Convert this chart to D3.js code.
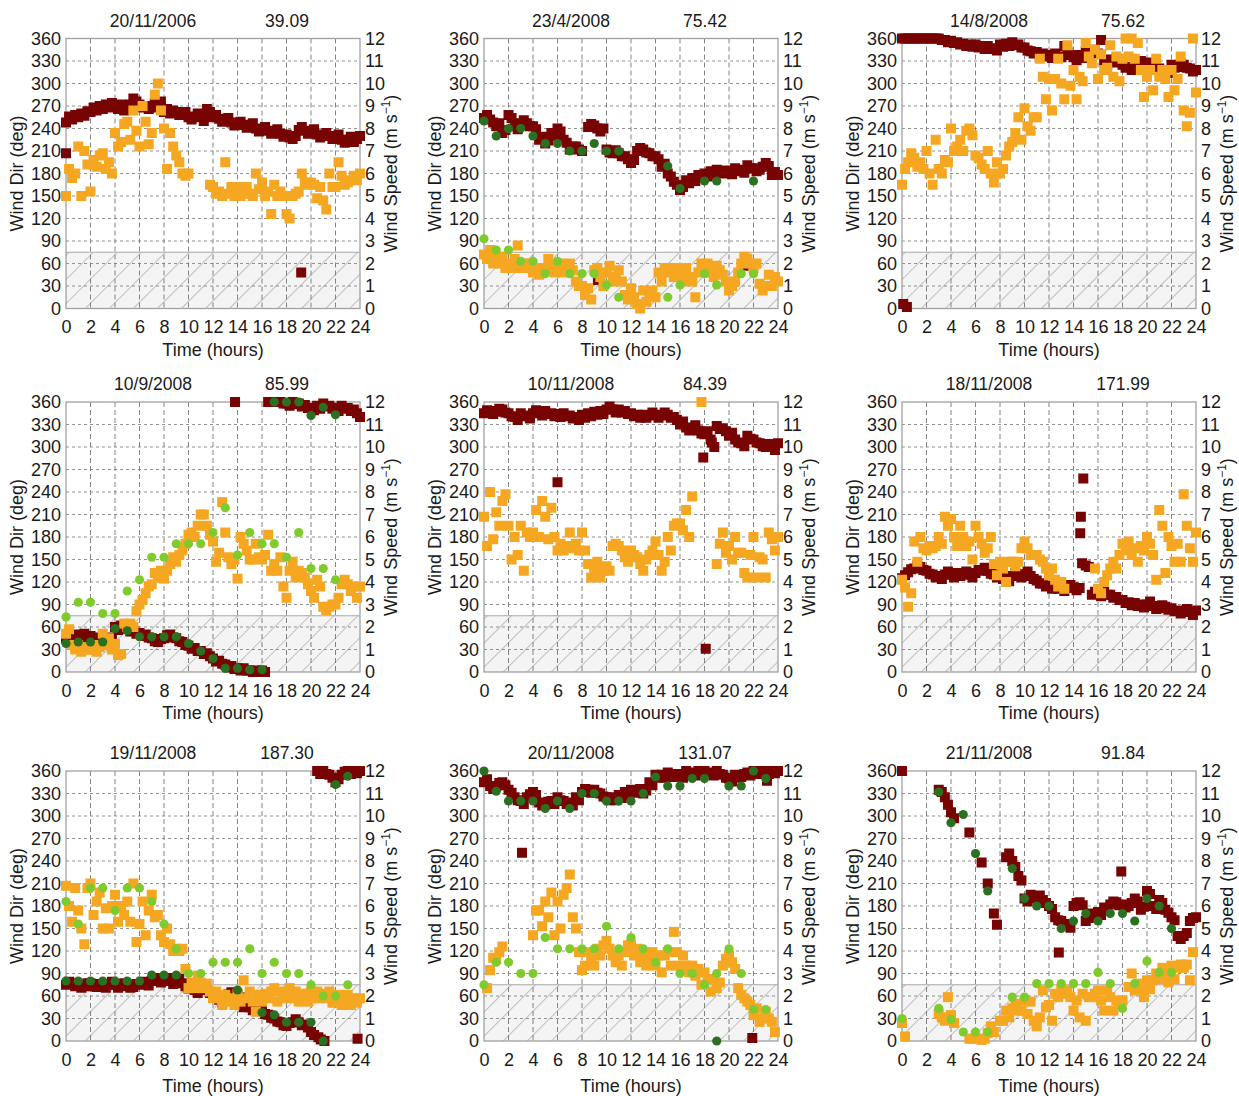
<!DOCTYPE html>
<html>
<head>
<meta charset="utf-8">
<script src="https://cdn.jsdelivr.net/npm/d3@7"></script>
<style>
body { margin: 0; background: #fff; }
text { font-family: "Liberation Sans", Arial, sans-serif; fill: #1a1a1a; }
</style>
</head>
<body>
<svg id="chart" width="1239" height="1096"></svg>
<script>
// panel headers
var dates = ["20/11/2006", "23/4/2008", "14/8/2008", "10/9/2008", "10/11/2008",
             "18/11/2008", "19/11/2008", "20/11/2008", "21/11/2008"];
var scores = ["39.09", "75.42", "75.62", "85.99", "84.39", "171.99", "187.30", "131.07", "91.84"];

var timeTicks = [0, 2, 4, 6, 8, 10, 12, 14, 16, 18, 20, 22, 24];
var dirTicks = [0, 30, 60, 90, 120, 150, 180, 210, 240, 270, 300, 330, 360];
var speedTicks = [0, 1, 2, 3, 4, 5, 6, 7, 8, 9, 10, 11, 12];
var calmLimit = 2.5; // m/s, hatched zone

// measured wind dir (deg) and speed (m/s), one value every quarter hour from 0 h
var step = 0.25;

var dir1 = [248,256,252,258, 255,260,257,263, 262,268,264,270, 266,272,268,274, 270,266,272,264,
  266,272,280,276, 272,268,270,266, 268,274,270,276, 262,266,260,264, 262,258,258,262,
  255,252,256,260, 255,250,266,262, 255,258,253,249, 250,254,248,244, 245,249,245,241,
  243,247,240,236, 238,242,237,233, 235,239,233,229, 232,228,226,230, 238,242,237,233,
  235,239,232,228, 230,234,230,226, 228,232,225,221, 225,229,222,226, 230];
var spd1 = [5.0,6.2,5.8,6.0, 7.2,5.0,7.0,6.4, 5.2,6.6,6.3,6.8, 6.9,6.2,6.5,6.0, 7.8,7.2,7.4,8.2,
  8.3,7.5,8.8,7.9, 7.2,9.0,8.3,7.3, 7.8,9.5,10.0,8.8, 8.0,6.2,7.8,7.2, 6.8,6.5,6.0,5.9,
  6.0,null,null,null, null,null,null,5.5, 5.4,5.1,5.2,5.0, 6.5,5.1,5.4,5.0, 5.4,5.0,5.2,5.4,
  5.1,5.0,6.0,5.3, 5.6,5.0,5.2,4.2, 5.5,5.0,5.2,5.0, 4.2,4.0,5.0,5.1, 5.2,6.0,5.6,5.5,
  5.6,5.5,4.9,5.4, 4.8,4.4,6.0,5.4, 5.4,6.5,5.9,5.5, 5.6,5.7,5.9,5.7, 6.0];
var odd1 = [[0, 207], [19.2, 48]];
var mdir1 = [];
var mspd1 = [];

var dir2 = [254,258,252,248, 243,247,234,238, 258,254,243,239, 247,251,247,243, 243,239,225,229,
  220,224,234,230, 240,236,225,221, 212,216,216,212, 210,null,242,246, 244,240,236,240,
  212,208,207,211, 207,203,203,199, 194,198,210,214, 212,208,207,203, 203,199,189,193,
  180,176,169,165, 158,162,171,167, 174,170,178,174, 180,176,183,179, 185,181,180,184,
  183,179,187,183, 185,181,191,187, 187,183,185,189, 194,190,178,182, 178];
var spd2 = [2.4,2.2,2.6,2.0, 2.2,2.0,2.3,1.8, 2.0,1.8,2.2,2.8, 1.8,2.0,1.8,2.0, 1.6,1.8,1.5,1.8,
  1.8,2.2,1.8,1.6, 1.8,2.0,1.6,1.8, 2.0,1.7,1.2,1.0, 1.0,0.6,0.9,0.4, 1.7,1.8,1.4,1.0,
  1.6,1.9,1.2,1.4, 1.7,1.2,0.6,0.4, 0.9,0.5,0.2,0.0, 0.8,0.3,0.5,0.8, 0.5,1.6,1.2,1.8,
  1.6,1.8,1.4,1.8, 1.5,1.2,1.8,1.4, 1.2,0.5,1.6,2.0, 1.8,2.0,1.6,1.4, 1.9,1.7,1.5,1.2,
  0.8,1.0,1.2,1.6, 2.0,2.3,2.2,2.0, 1.8,2.0,1.1,0.8, 1.0,1.5,1.0,1.4, 1.2];
var odd2 = [[9.3, 38], [21.2, 57]];
var mdir2 = [[0,250],[1,230],[2,240],[3,240],[4,230],[5,220],[6,220],[7,210],[8,210],[9,220],
  [10,210],[11,210],[15,190],[16,160],[18,170],[19,170],[22,170]];
var mspd2 = [[0,3.1],[1,2.6],[2,2.6],[3,2.1],[4,2.1],[5,1.55],[6,2.1],[7,1.55],[8,1.55],[9,1.55],
  [10,1.05],[11,0.5],[15,0.5],[16,1.05],[18,1.55],[19,1.05],[21,1.55],[22,1.55]];

var dir3 = [360,360,360,360, 360,360,360,360, 360,360,360,360, 360,358,358,355, 357,354,355,352,
  353,350,352,349, 352,348,350,346, 350,346,347,344, 352,349,353,350, 355,351,352,348,
  348,344,343,340, 342,338,340,336, 338,334,340,336, 335,350,342,338, 335,331,338,334,
  343,339,345,341, 340,358,330,326, 332,328,333,329, 325,321,322,318, 325,321,330,326,
  328,324,325,321, 320,316,318,314, 325,321,322,326, 325,321,320,316, 318];
var spd3 = [5.5,6.2,6.5,6.9, 6.7,6.3,6.5,6.2, 7.0,6.0,5.5,7.5, 6.2,6.0,6.6,6.5, 8.0,7.0,7.2,7.5,
  7.0,7.9,8.0,7.7, 6.8,6.7,6.4,6.2, 7.0,6.0,5.6,6.5, 6.0,6.2,6.8,7.2, 7.4,7.8,8.5,7.5,
  8.9,8.1,7.9,8.5, 8.5,11.1,10.3,9.3, 10.2,8.8,10.2,11.1, 10.0,9.3,11.7,9.9, 10.6,9.3,10.3,10.1,
  11.8,11.2,10.9,11.5, 10.2,11.3,10.6,10.7, 11.7,10.3,11.2,10.1, 11.1,12.0,11.2,12.0, 11.1,11.8,10.6,9.4,
  10.3,10.6,9.7,11.1, 10.3,10.6,10.2,9.4, 10.6,9.7,10.2,11.2, 8.8,8.1,8.7,12.0, 9.6];
var odd3 = [[0.1, 6], [0.4, 2]];
var mdir3 = [];
var mspd3 = [];

var dir4 = [45,48,45,42, 50,46,51,47, 48,44,42,46, 45,41,42,46, 60,56,62,58,
  58,54,55,51, 52,48,50,46, 45,41,40,44, 45,49,50,46, 45,41,40,36,
  35,31,32,28, 28,24,25,21, 18,14,15,11, 10,6,8,4, 5,2,5,2,
  2,0,2,0, 2,0,360,360, 360,360,360,358, 358,355,360,357, 358,354,356,352,
  352,349,355,351, 358,354,355,351, 352,348,355,351, 352,348,350,345, 340];
var spd4 = [1.7,1.9,1.2,1.0, 1.2,0.9,1.1,1.0, 1.0,1.2,0.9,1.1, 1.7,1.2,1.5,1.0, 1.25,0.75,0.8,2.15,
  2.0,2.15,2.0,2.7, 3.0,3.2,3.5,3.8, 3.9,4.4,4.2,4.5, 4.15,4.5,4.8,5.1, 4.9,5.2,5.4,5.7,
  6.1,6.2,6.0,6.5, 7.0,7.0,6.5,6.1, 5.8,4.9,5.3,7.55, 6.2,5.1,4.8,5.0, 4.15,6.0,5.7,5.4,
  5.0,5.0,5.7,5.1, 5.0,5.2,6.1,4.5, 4.8,4.5,5.1,3.8, 3.3,4.5,4.9,4.2, 4.5,4.4,4.2,3.9,
  3.6,3.3,4.1,3.8, 2.9,2.75,2.9,3.0, 3.0,3.3,3.9,4.1, 3.9,3.6,3.8,3.3, 3.8];
var odd4 = [[13.8, 360]];
var mdir4 = [[0,38],[1,40],[2,40],[3,40],[4,58],[5,55],[6,47],[7,47],[8,47],[9,47],[10,38],[11,28],
  [12,18],[13,5],[14,5],[15,3],[16,3],[17,360],[18,360],[19,360],[20,342],[21,353],[22,343]];
var mspd4 = [[0,2.45],[1,3.1],[2,3.1],[3,2.6],[4,2.6],[5,3.6],[6,4.1],[7,5.1],[8,5.1],[9,5.7],[10,5.7],
  [11,5.7],[12,6.2],[13,7.3],[14,5.2],[15,6.2],[16,5.7],[17,5.7],[18,5.1],[19,6.2],[20,4.6],[21,4.6],[22,4.1]];

var dir5 = [345,349,348,344, 347,351,350,346, 345,341,340,336, 345,341,342,338, 345,349,346,342,
  348,344,345,341, 344,340,345,341, 342,338,340,336, 343,339,345,341, 347,343,348,344,
  350,354,350,346, 350,346,348,344, 345,341,343,339, 343,339,342,346, 343,339,342,346,
  343,339,340,336, 330,334,326,322, 325,329,322,318, 317,321,310,null, 328,324,325,321,
  315,319,310,306, 305,301,315,311, 310,306,305,301, 300,304,300,296, 305];
var spd5 = [6.9,5.6,8.0,5.9, 7.1,6.5,7.6,7.9, 6.5,5.0,6.0,5.2, 6.5,4.5,6.2,6.0, 6.2,7.2,6.0,7.6,
  6.9,5.9,7.3,6.0, 5.4,5.7,5.4,5.6, 6.2,5.5,5.7,5.4, 6.2,5.4,4.8,4.2, 4.5,4.9,4.2,4.5,
  4.7,4.5,5.6,5.7, 5.6,5.4,5.1,4.9, 5.4,5.2,5.1,4.8, 4.5,5.0,5.2,5.4, 5.8,5.2,4.5,4.9,
  6.0,5.4,6.5,6.6, 6.6,6.3,7.2,6.0, 7.8,null,null,12.0, null,null,null,null, 4.8,5.7,6.2,5.3,
  5.6,5.0,6.0,5.3, 5.3,4.4,4.2,5.2, 6.0,4.2,5.1,5.0, 4.2,6.2,5.9,5.4, 6.0];
var odd5 = [[6, 253], [17.9, 286], [18.1, 31], [18.8, 300], [18.6, 306]];
var mdir5 = [];
var mspd5 = [];

var dir6 = [125,129,133,137, 138,142,140,136, 135,131,130,126, 128,124,130,134, 130,126,132,128,
  130,134,130,126, 132,136,135,139, 135,131,130,126, 128,124,125,121, 128,132,130,126,
  130,134,128,124, 122,118,118,114, 115,111,115,111, 112,108,112,116, 113,109,112,null,
  142,140,103,107, 105,101,107,103, 103,99,100,96, 96,92,93,89, 92,88,90,86,
  90,94,88,84, 85,89,87,83, 85,81,82,78, 80,84,80,76, 82];
var spd6 = [4.1,3.75,2.9,3.5, 5.8,4.9,6.0,5.5, 5.4,5.6,5.5,5.6, 6.0,5.7,6.9,6.5, 6.8,6.0,5.6,6.5,
  6.0,5.6,5.8,5.0, 6.5,6.0,5.7,5.3, 5.5,6.0,4.8,4.3, 4.9,4.6,4.0,4.9, 4.9,4.7,4.9,5.5,
  5.8,5.5,5.2,5.2, 5.2,5.0,4.9,4.6, 4.3,4.6,4.1,3.8, 4.0,3.7,null,null, null,null,null,null,
  null,null,null,4.6, 3.7,3.5,4.0,4.3, 4.6,4.9,4.6,5.2, 5.7,5.4,5.8,5.2, 5.5,4.9,5.6,5.4,
  6.0,5.7,5.2,4.1, 7.2,6.5,4.4,6.0, 5.6,4.9,5.7,4.9, 7.9,6.5,5.5,4.9, 6.2];
var odd6 = [[14.8, 258], [14.6, 207], [14.55, 185], [14.7, 145]];
var mdir6 = [];
var mspd6 = [];

var dir7 = [75,79,77,73, 75,71,73,77, 77,73,72,76, 75,71,75,79, 75,71,73,77,
  75,71,72,76, 75,79,78,74, 80,84,82,78, 80,84,80,76, 80,84,77,73,
  70,74,68,64, 72,68,68,64, 60,64,55,51, 58,62,65,61, 62,58,45,49,
  45,41,42,46, 40,36,35,31, 30,26,25,21, 20,24,25,29, 25,21,22,18,
  12,8,360,356, 360,356,355,351, 345,349,355,359, 360,356,360,357, 360];
var spd7 = [6.9,6.0,5.3,6.8, 5.8,5.0,4.3,6.8, 7.0,5.6,6.2,6.6, 5.0,5.9,5.0,6.0, 6.5,5.3,6.0,5.6,
  6.2,5.3,7.0,4.4, 5.2,6.2,4.7,5.8, 6.5,5.5,5.6,4.7, 4.4,5.0,4.3,4.0, 4.1,4.0,4.1,3.2,
  2.35,2.6,2.35,2.9, 2.6,2.35,2.55,2.2, 1.9,2.2,1.9,1.6, 2.05,1.75,1.9,1.6, 2.1,1.75,2.7,1.9,
  2.2,1.75,1.3,2.05, 1.75,2.1,1.9,2.2, 2.35,1.75,2.2,1.9, 2.1,2.35,1.9,2.2, 1.75,1.9,2.1,1.75,
  2.2,1.9,2.2,1.9, 2.1,1.9,2.2,1.7, 1.75,2.05,1.6,1.9, 2.05,1.6,1.9,1.7, 1.9];
var odd7 = [[20.6, 5], [20.8, 2], [21.1, 0], [23.8, 3]];
var mdir7 = [[0,80],[1,80],[2,80],[3,80],[4,80],[5,80],[6,80],[7,88],[8,88],[9,88],[14,68],[16,38],
  [17,35],[18,25],[19,25],[20,25],[21,0],[22,342],[23,353]];
var mspd7 = [[0,6.2],[1,5.2],[2,6.8],[3,6.8],[4,5.8],[5,6.8],[6,6.8],[7,6.2],[8,5.2],[9,4.1],[10,3.0],
  [11,3.0],[12,3.5],[13,3.5],[14,3.5],[15,4.1],[16,3.0],[17,3.5],[18,3.0],[19,3.0],[20,2.5],[21,2.0],[22,2.0],[23,2.5]];

var dir8 = [345,349,340,336, 340,344,345,341, 335,331,325,321, 320,316,325,329, 332,328,318,314,
  315,319,320,316, 325,321,320,316, 318,314,325,321, 332,336,335,331, 335,331,330,326,
  325,321,325,321, 328,324,332,328, 335,331,332,336, 330,334,345,341, 355,351,355,351,
  358,354,352,356, 355,351,360,356, 358,354,360,356, 360,356,358,354, 360,356,355,351,
  350,346,355,351, 352,356,358,354, 360,356,360,356, 360,356,360,357, 360];
var spd8 = [null,2.35,3.15,3.7, 3.65,3.95,4.2,null, null,null,null,null, null,null,null,null, 4.7,5.8,5.8,5.1,
  6.2,5.5,6.6,4.7, 6.2,5.0,6.5,6.8, 7.4,5.5,5.0,3.95, 3.15,3.35,3.95,3.65, 3.35,4.1,3.8,4.25,
  4.45,4.1,3.8,3.5, 3.8,3.35,3.95,4.25, 4.3,3.8,4.1,3.5, 3.8,3.35,3.65,3.95, 3.35,3.8,3.05,3.8,
  3.95,3.35,4.85,3.95, 3.35,3.8,3.35,3.05, 3.35,2.9,3.2,2.5, 3.05,2.75,2.2,2.75, 2.35,2.6,3.35,3.65,
  3.8,3.5,3.2,2.35, 2.05,1.9,1.75,1.6, 1.15,1.45,0.85,1.0, 1.3,1.0,0.85,0.4, null];
var odd8 = [[3.1, 251], [21.9, 4], [23.1, 347]];
var mdir8 = [[0,360],[1,333],[2,320],[3,320],[4,320],[5,310],[6,320],[7,310],[8,330],[9,330],[10,320],
  [11,320],[12,320],[13,330],[14,352],[15,340],[16,340],[17,350],[18,350],[19,0],[20,340],[21,340],[22,360],[23,350]];
var mspd8 = [[0,2.5],[1,3.5],[2,3.5],[3,3.0],[4,3.0],[5,4.6],[6,4.1],[7,4.1],[8,4.1],[9,4.1],[10,5.1],
  [11,4.1],[12,4.6],[13,4.1],[14,3.5],[15,4.1],[16,3.0],[17,3.0],[18,2.5],[19,3.0],[20,4.1],[21,3.0],[22,1.4],[23,1.4]];

var dir9 = [360,null,null,null, null,null,null,null, null,null,null,null, 335,332,325,315, 305,297,null,null,
  null,null,278,null, null,null,238,null, 210,null,170,155, null,null,245,250, 240,232,220,214,
  190,186,195,191, 190,194,188,184, 180,176,165,161, 160,156,155,151, 180,184,185,181,
  160,164,170,166, 172,168,178,174, 182,186,185,181, 182,178,180,184, 190,186,175,179,
  200,196,180,176, 188,184,175,171, 165,161,140,136, 140,144,160,164, 165];
var spd9 = [0.8,0.2,null,null, null,null,null,null, null,null,null,null, 1.2,1.05,0.9,1.95, 1.15,0.8,null,null,
  null,null,0.1,0.1, null,0.1,0.05,0.1, 0.35,0.65,0.4,null, 0.9,0.9,1.35,1.05, 1.45,1.65,1.35,1.35,
  1.8,1.2,1.75,0.9, 0.65,1.05,2.25,1.5, 1.6,0.9,2.1,1.95, 2.3,2.1,2.25,1.95, 1.35,1.8,1.05,2.1,
  0.9,1.95,1.95,2.1, 2.25,1.8,1.35,2.25, 1.95,1.35,1.8,1.65, 1.8,null,2.4,3.0, 2.25,2.55,2.25,1.95,
  2.7,2.3,2.7,3.0, 2.75,3.25,2.85,2.6, 3.35,2.75,3.25,3.4, 3.25,3.4,2.7,3.95, null];
var odd9 = [[12.8, 118], [17.9, 226]];
var mdir9 = [[3,332],[4,291],[5,302],[6,250],[7,200],[9,230],[10,190],[11,180],[12,180],[13,150],[14,160],
  [15,170],[16,160],[17,170],[18,170],[19,160],[20,190],[21,180],[22,150]];
var mspd9 = [[0,1.0],[3,1.45],[4,0.95],[5,0.4],[6,0.4],[7,0.4],[9,1.95],[10,1.95],[11,2.55],[12,2.55],
  [13,2.55],[14,2.55],[15,2.55],[16,3.05],[17,2.55],[18,1.45],[19,2.55],[20,3.55],[21,3.05],[22,3.05]];

var dirs = [dir1, dir2, dir3, dir4, dir5, dir6, dir7, dir8, dir9];
var spds = [spd1, spd2, spd3, spd4, spd5, spd6, spd7, spd8, spd9];
var odds = [odd1, odd2, odd3, odd4, odd5, odd6, odd7, odd8, odd9];
var mdirs = [mdir1, mdir2, mdir3, mdir4, mdir5, mdir6, mdir7, mdir8, mdir9];
var mspds = [mspd1, mspd2, mspd3, mspd4, mspd5, mspd6, mspd7, mspd8, mspd9];

// layout
var colLeft = [66, 484, 902];
var rowTop = [38.5, 402, 771];
var plotW = 294, plotH = 270;
var sq = 10, rad = 4.6;

var colDir = '#780303', colSpd = '#f6a722', colMDir = '#2b7020', colMSpd = '#7fcb2e';

function sampled(vals) {
  return vals.map(function(v, i) { return [i * step, v]; })
    .filter(function(d) { return d[1] != null; });
}

var svg = d3.select('#chart');

var pat = svg.append('defs').append('pattern')
  .attr('id', 'hatch')
  .attr('patternUnits', 'userSpaceOnUse')
  .attr('width', 17).attr('height', 17)
  .attr('patternTransform', 'rotate(45)');
pat.append('rect').attr('width', 17).attr('height', 17).attr('fill', '#f4f4f4');
pat.append('line').attr('x1', 0).attr('y1', 0).attr('x2', 0).attr('y2', 17)
  .attr('stroke', '#9c9c9c').attr('stroke-width', 1.2);

dates.forEach(function(date, i) {
  var left = colLeft[i % 3], top = rowTop[Math.floor(i / 3)];
  var g = svg.append('g').attr('transform', 'translate(' + left + ',' + top + ')');

  var x = d3.scaleLinear().domain([0, 24]).range([0, plotW]);
  var yDir = d3.scaleLinear().domain([0, 360]).range([plotH, 0]);
  var ySpd = d3.scaleLinear().domain([0, 12]).range([plotH, 0]);

  // calm zone
  g.append('rect')
    .attr('x', 0).attr('y', ySpd(calmLimit))
    .attr('width', plotW).attr('height', plotH - ySpd(calmLimit))
    .attr('fill', 'url(#hatch)');

  // grid
  g.append('g').selectAll('line')
    .data(timeTicks.slice(1, -1)).enter().append('line')
    .attr('x1', function(d) { return x(d); }).attr('x2', function(d) { return x(d); })
    .attr('y1', 0).attr('y2', plotH)
    .attr('stroke', '#666').attr('stroke-width', 0.8).attr('stroke-dasharray', '5,3');
  g.append('g').selectAll('line')
    .data(dirTicks.slice(1, -1)).enter().append('line')
    .attr('x1', 0).attr('x2', plotW)
    .attr('y1', function(d) { return yDir(d); }).attr('y2', function(d) { return yDir(d); })
    .attr('stroke', '#777').attr('stroke-width', 0.8).attr('stroke-dasharray', '3,3');

  g.append('line')
    .attr('x1', 0).attr('x2', plotW)
    .attr('y1', ySpd(calmLimit)).attr('y2', ySpd(calmLimit))
    .attr('stroke', '#a8a8a8').attr('stroke-width', 1.2);

  g.append('rect')
    .attr('width', plotW).attr('height', plotH)
    .attr('fill', 'none').attr('stroke', '#a0a0a0').attr('stroke-width', 1.3);

  // measured direction
  var dirPts = sampled(dirs[i]).concat(odds[i]);
  g.append('g').selectAll('rect')
    .data(dirPts).enter().append('rect')
    .attr('x', function(d) { return x(d[0]) - sq / 2; })
    .attr('y', function(d) { return yDir(d[1]) - sq / 2; })
    .attr('width', sq).attr('height', sq)
    .attr('fill', colDir);

  // measured speed
  g.append('g').selectAll('rect')
    .data(sampled(spds[i])).enter().append('rect')
    .attr('x', function(d) { return x(d[0]) - sq / 2; })
    .attr('y', function(d) { return ySpd(d[1]) - sq / 2; })
    .attr('width', sq).attr('height', sq)
    .attr('fill', colSpd);

  // modelled direction & speed
  g.append('g').selectAll('circle')
    .data(mdirs[i]).enter().append('circle')
    .attr('cx', function(d) { return x(d[0]); })
    .attr('cy', function(d) { return yDir(d[1]); })
    .attr('r', rad).attr('fill', colMDir);
  g.append('g').selectAll('circle')
    .data(mspds[i]).enter().append('circle')
    .attr('cx', function(d) { return x(d[0]); })
    .attr('cy', function(d) { return ySpd(d[1]); })
    .attr('r', rad).attr('fill', colMSpd);

  // axes
  var ax = g.append('g').attr('transform', 'translate(0,' + plotH + ')')
    .call(d3.axisBottom(x).tickValues(timeTicks).tickSize(0).tickPadding(12));
  var ay = g.append('g')
    .call(d3.axisLeft(yDir).tickValues(dirTicks).tickSize(0).tickPadding(5));
  var ay2 = g.append('g').attr('transform', 'translate(' + plotW + ',0)')
    .call(d3.axisRight(ySpd).tickValues(speedTicks).tickSize(0).tickPadding(5));
  [ax, ay, ay2].forEach(function(a) {
    a.select('.domain').remove();
    a.attr('font-size', 18);
  });

  // titles
  g.append('text').attr('x', 87).attr('y', -12).attr('text-anchor', 'middle')
    .attr('font-size', 17.5).text(date);
  g.append('text').attr('x', 221).attr('y', -12).attr('text-anchor', 'middle')
    .attr('font-size', 17.5).text(scores[i]);

  g.append('text')
    .attr('x', plotW / 2).attr('y', plotH + (i >= 6 ? 51 : 47))
    .attr('text-anchor', 'middle').attr('font-size', 18)
    .text('Time (hours)');

  g.append('text')
    .attr('transform', 'translate(-43,' + (plotH / 2) + ') rotate(-90)')
    .attr('text-anchor', 'middle').attr('font-size', 18)
    .text('Wind Dir (deg)');

  var rt = g.append('text')
    .attr('transform', 'translate(' + (plotW + 37) + ',' + (plotH / 2) + ') rotate(-90)')
    .attr('text-anchor', 'middle').attr('font-size', 18);
  rt.append('tspan').text('Wind Speed (m s');
  rt.append('tspan').attr('dy', -7).attr('font-size', 12).text('\u22121');
  rt.append('tspan').attr('dy', 7).text(')');
});
</script>
</body>
</html>
